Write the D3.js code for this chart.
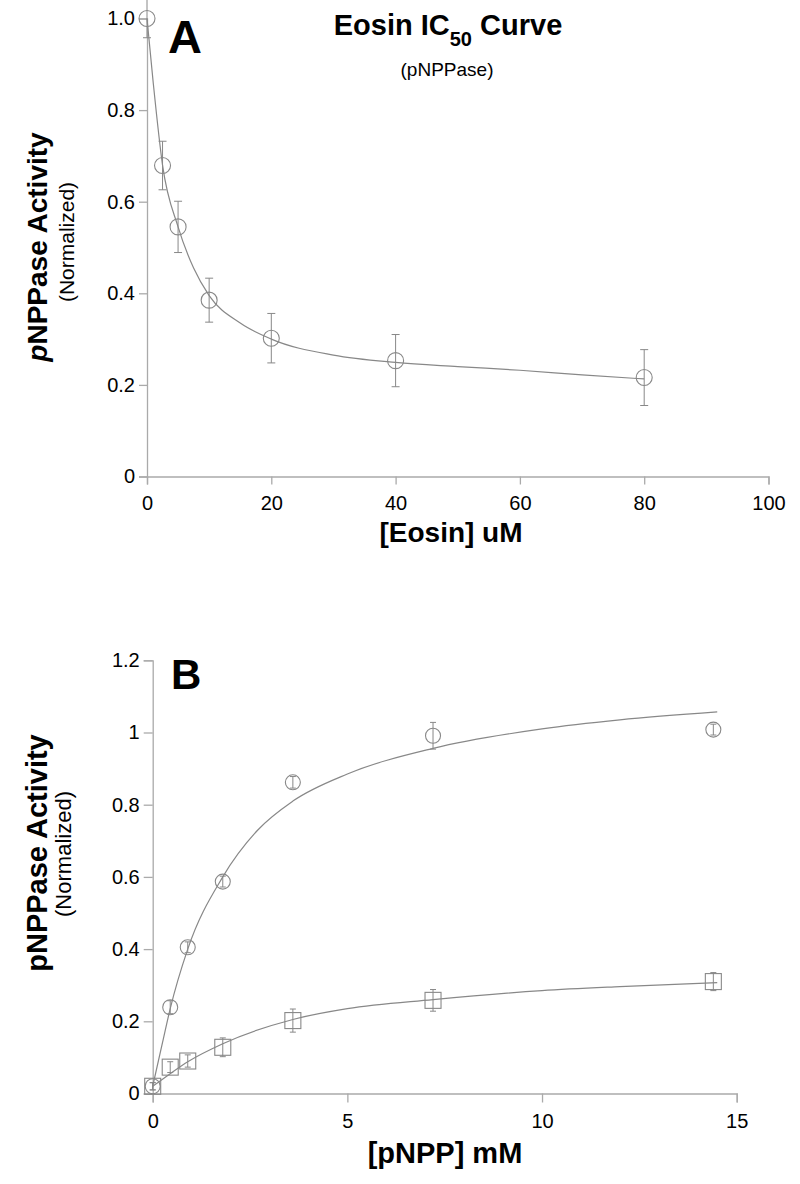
<!DOCTYPE html>
<html><head><meta charset="utf-8">
<script src="https://cdn.jsdelivr.net/npm/d3@7"></script>
<style>
body{margin:0;background:#fff;}
text{font-family:"Liberation Sans",Arial,sans-serif;}
</style></head>
<body><svg id="c" width="800" height="1184"></svg>
<script>
// Panel A: Eosin IC50
const eosinConc = [0, 2.5, 5, 10, 20, 40, 80];
const eosinActivity = [1.0, 0.679, 0.545, 0.385, 0.302, 0.253, 0.216];
const eosinErr = [0.042, 0.053, 0.056, 0.048, 0.054, 0.057, 0.061];
const eosinFitX = [0, 1, 2.5, 5, 7.5, 10, 15, 20, 30, 40, 50, 60, 70, 80];
const eosinFitY = [1.0, 0.86, 0.68, 0.545, 0.455, 0.395, 0.335, 0.30, 0.265, 0.249, 0.24, 0.232, 0.222, 0.213];
const aXTicks = [0, 20, 40, 60, 80, 100];
const aYTicks = [0, 0.2, 0.4, 0.6, 0.8, 1.0];

// Panel B: pNPP kinetics
const pnppConc = [0, 0.45, 0.9, 1.8, 3.6, 7.2, 14.4];
const ctrlActivity = [0.02, 0.239, 0.405, 0.587, 0.862, 0.991, 1.008];
const ctrlErr = [0.01, 0.018, 0.015, 0.015, 0.016, 0.037, 0.015];
const eosinBActivity = [0.02, 0.073, 0.09, 0.128, 0.202, 0.258, 0.31];
const eosinBErr = [0.01, 0.015, 0.017, 0.026, 0.032, 0.03, 0.025];
const ctrlFitX = [0, 0.25, 0.45, 0.9, 1.8, 2.7, 3.6, 5, 7.2, 10, 12, 14.5];
const ctrlFitY = [0.02, 0.14, 0.235, 0.40, 0.60, 0.73, 0.81, 0.885, 0.956, 1.01, 1.035, 1.057];
const eosinBFitX = [0, 0.45, 0.9, 1.8, 3.6, 5, 7.2, 10, 12, 14.5];
const eosinBFitY = [0.02, 0.055, 0.088, 0.138, 0.205, 0.235, 0.26, 0.285, 0.296, 0.307];
const bXTicks = [0, 5, 10, 15];
const bYTicks = [0, 0.2, 0.4, 0.6, 0.8, 1, 1.2];

const svg = d3.select("#c");
const AX = "#aaaaaa", MK = "#888888";

function axes(g, x, y, xt, yt, xf, yf, tick, padX) {
  const ax = g.append("g").attr("transform", `translate(0,${y(0)})`)
    .call(d3.axisBottom(x).tickValues(xt).tickFormat(xf).tickSizeOuter(0).tickSize(tick).tickPadding(padX));
  const ay = g.append("g").attr("transform", `translate(${x(0)},0)`)
    .call(d3.axisLeft(y).tickValues(yt).tickFormat(yf).tickSizeOuter(0).tickSize(tick).tickPadding(4));
  [ax, ay].forEach(a => {
    a.select(".domain").attr("stroke", AX).attr("stroke-width", 1.3);
    a.selectAll(".tick line").attr("stroke", AX).attr("stroke-width", 1.3);
    a.selectAll(".tick text").attr("fill", "#000").style("font-size", "20px")
      .style("font-family", '"Liberation Sans",Arial,sans-serif');
  });
}
function errs(g, x, y, xs, ys, es, cap) {
  const d = xs.map((v, i) => ({x: v, y: ys[i], e: es[i]}));
  const e = g.append("g").attr("stroke", MK).attr("stroke-width", 1);
  e.selectAll(".v").data(d).join("line")
    .attr("x1", p => x(p.x)).attr("x2", p => x(p.x))
    .attr("y1", p => y(p.y - p.e)).attr("y2", p => y(p.y + p.e));
  [-1, 1].forEach(s => e.selectAll(".c" + s).data(d).join("line")
    .attr("x1", p => x(p.x) - cap).attr("x2", p => x(p.x) + cap)
    .attr("y1", p => y(p.y + s * p.e)).attr("y2", p => y(p.y + s * p.e)));
  return d;
}
function fit(g, x, y, xs, ys) {
  g.append("path").datum(xs.map((v, i) => [v, ys[i]]))
    .attr("fill", "none").attr("stroke", MK).attr("stroke-width", 1.2)
    .attr("d", d3.line().x(p => x(p[0])).y(p => y(p[1])).curve(d3.curveMonotoneX));
}

// ---------- Panel A ----------
const xA = d3.scaleLinear().domain([0, 100]).range([147, 768.5]);
const yA = d3.scaleLinear().domain([0, 1]).range([476.5, 18.5]);
const gA = svg.append("g");
axes(gA, xA, yA, aXTicks, aYTicks, d3.format("d"), d => d === 0 ? "0" : d3.format(".1f")(d), 8, 11);
fit(gA, xA, yA, eosinFitX, eosinFitY);
const dA = errs(gA, xA, yA, eosinConc, eosinActivity, eosinErr, 4);
gA.selectAll(".pt").data(dA).join("circle")
  .attr("cx", p => xA(p.x)).attr("cy", p => yA(p.y)).attr("r", 8)
  .attr("fill", "none").attr("stroke", MK).attr("stroke-width", 1.1);

gA.append("text").attr("x", 168).attr("y", 53).style("font-size", "47px").style("font-weight", "bold").text("A");
const tA = gA.append("text").attr("x", 448).attr("y", 35).attr("text-anchor", "middle")
  .style("font-size", "29px").style("font-weight", "bold");
tA.append("tspan").text("Eosin IC");
tA.append("tspan").attr("dy", 11).style("font-size", "20px").text("50");
tA.append("tspan").attr("dy", -11).text(" Curve");
gA.append("text").attr("x", 447).attr("y", 76).attr("text-anchor", "middle").style("font-size", "19px").text("(pNPPase)");
gA.append("text").attr("x", 451).attr("y", 542).attr("text-anchor", "middle")
  .style("font-size", "28px").style("font-weight", "bold").text("[Eosin] uM");
const lA = gA.append("text").attr("transform", "translate(47,247) rotate(-90)").attr("text-anchor", "middle")
  .style("font-size", "28px").style("font-weight", "bold");
lA.append("tspan").style("font-style", "italic").text("p");
lA.append("tspan").text("NPPase Activity");
gA.append("text").attr("transform", "translate(74,242) rotate(-90)").attr("text-anchor", "middle")
  .style("font-size", "21px").text("(Normalized)");

// ---------- Panel B ----------
const xB = d3.scaleLinear().domain([0, 15]).range([152.7, 736.7]);
const yB = d3.scaleLinear().domain([0, 1.2]).range([1093.5, 660.3]);
const gB = svg.append("g");
axes(gB, xB, yB, bXTicks, bYTicks, d3.format("d"), d3.format(""), 9, 11);
fit(gB, xB, yB, ctrlFitX, ctrlFitY);
fit(gB, xB, yB, eosinBFitX, eosinBFitY);
const dB1 = errs(gB, xB, yB, pnppConc, ctrlActivity, ctrlErr, 3);
const dB2 = errs(gB, xB, yB, pnppConc, eosinBActivity, eosinBErr, 3);
gB.selectAll(".pc").data(dB1).join("circle")
  .attr("cx", p => xB(p.x)).attr("cy", p => yB(p.y)).attr("r", 7.5)
  .attr("fill", "none").attr("stroke", MK).attr("stroke-width", 1.1);
gB.selectAll(".ps").data(dB2).join("rect")
  .attr("x", p => xB(p.x) - 8).attr("y", p => yB(p.y) - 8).attr("width", 16).attr("height", 16)
  .attr("fill", "none").attr("stroke", MK).attr("stroke-width", 1.1);

gB.append("text").attr("x", 171).attr("y", 689).style("font-size", "42px").style("font-weight", "bold").text("B");
gB.append("text").attr("x", 445).attr("y", 1163).attr("text-anchor", "middle")
  .style("font-size", "29px").style("font-weight", "bold").text("[pNPP] mM");
gB.append("text").attr("transform", "translate(47,853) rotate(-90)").attr("text-anchor", "middle")
  .style("font-size", "29px").style("font-weight", "bold").text("pNPPase Activity");
gB.append("text").attr("transform", "translate(71,854) rotate(-90)").attr("text-anchor", "middle")
  .style("font-size", "22px").text("(Normalized)");
</script></body></html>
